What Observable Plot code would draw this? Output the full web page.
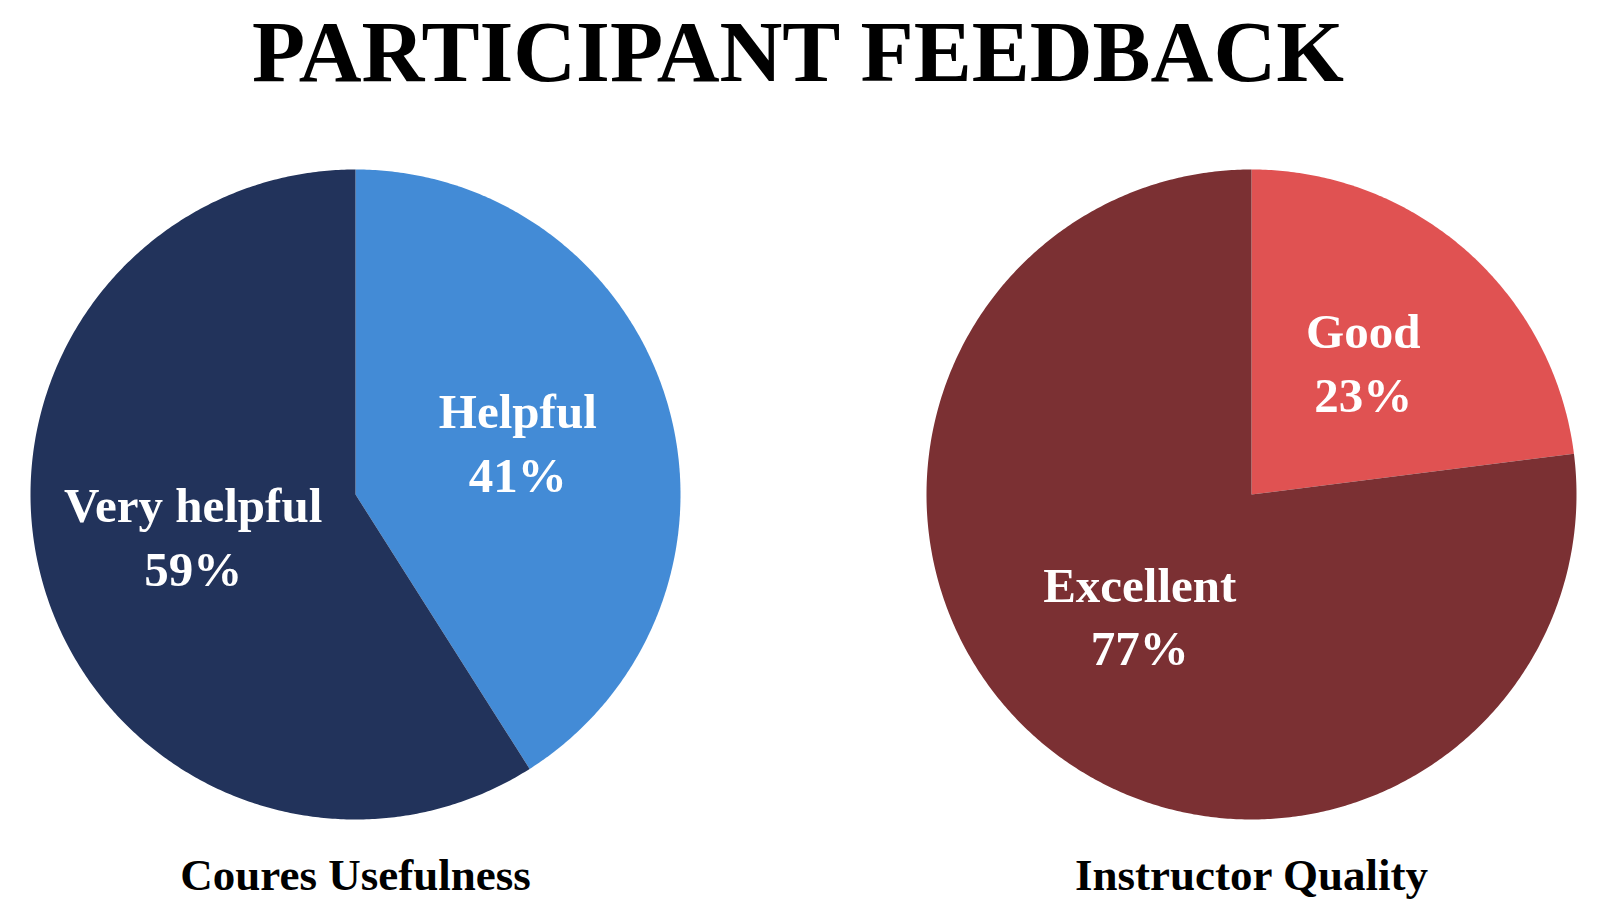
<!DOCTYPE html>
<html><head><meta charset="utf-8">
<script src="https://cdn.jsdelivr.net/npm/d3@7"></script>
<script src="https://cdn.jsdelivr.net/npm/@observablehq/plot@0.6"></script>
<style>
body{margin:0;background:#fff;width:1616px;height:912px;overflow:hidden}
#title{height:110px;font-family:'Liberation Serif',serif;font-weight:bold;font-size:87px;line-height:104px;text-align:center;color:#000;padding-right:20px;box-sizing:border-box;white-space:nowrap}
</style></head><body>
<div id="title">PARTICIPANT FEEDBACK</div>
<div id="chart"></div>
<script>
const charts = ["Coures Usefulness", "Instructor Quality"];
const chartNames = ["Coures Usefulness", "Coures Usefulness", "Instructor Quality", "Instructor Quality"];
const categories = ["Helpful", "Very helpful", "Good", "Excellent"];
const shares = [41, 59, 23, 77];
const sliceColors = ["#438BD6", "#22335B", "#E05252", "#7B3033"];

// slice angles (clockwise from 12 o'clock) computed from the shares
const slices = [];
charts.forEach(chart => {
  const idx = chartNames.map((c, i) => c === chart ? i : -1).filter(i => i >= 0);
  const total = d3.sum(idx, i => shares[i]);
  let start = 0;
  idx.forEach(i => {
    const end = start + shares[i] / total;
    slices.push({chart, category: categories[i], share: shares[i],
      a0: start * 2 * Math.PI, a1: end * 2 * Math.PI});
    start = end;
  });
});

// outline of each wedge on the unit circle
const pts = [];
slices.forEach(s => {
  const base = {chart: s.chart, category: s.category};
  pts.push({...base, x: 0, y: 0});
  const n = Math.max(2, Math.ceil((s.a1 - s.a0) / (Math.PI / 360)));
  for (let k = 0; k <= n; k++) {
    const a = s.a0 + (s.a1 - s.a0) * k / n;
    pts.push({...base, x: Math.sin(a), y: Math.cos(a)});
  }
  pts.push({...base, x: 0, y: 0});
});

const LR = 0.52;
const mid = d => (d.a0 + d.a1) / 2;
const font = "'Liberation Serif', serif";

const plot = Plot.plot({
  width: 1616,
  height: 802,
  marginTop: 59,
  marginBottom: 93,
  marginLeft: 30,
  marginRight: 40,
  x: {domain: [-1, 1], axis: null},
  y: {domain: [-1, 1], axis: null},
  fx: {domain: charts, axis: null, paddingInner: 0.2746, paddingOuter: 0},
  color: {domain: categories, range: sliceColors},
  style: {background: "white", overflow: "visible"},
  marks: [
    Plot.line(pts, {x: "x", y: "y", z: "category", fill: "category", stroke: "none", fx: "chart"}),
    Plot.text(slices, {
      fx: "chart",
      x: d => LR * Math.sin(mid(d)),
      y: d => LR * Math.cos(mid(d)),
      dy: -8,
      text: d => `${d.category}\n${d.share}%`,
      fill: "white", fontSize: 49, fontWeight: "bold", fontFamily: font, lineHeight: 1.3
    }),
    Plot.text(charts, {
      fx: d => d, text: d => d, frameAnchor: "bottom", dy: 70,
      fill: "black", fontSize: 45, fontWeight: "bold", fontFamily: font
    })
  ]
});
document.getElementById("chart").appendChild(plot);
</script>
</body></html>
